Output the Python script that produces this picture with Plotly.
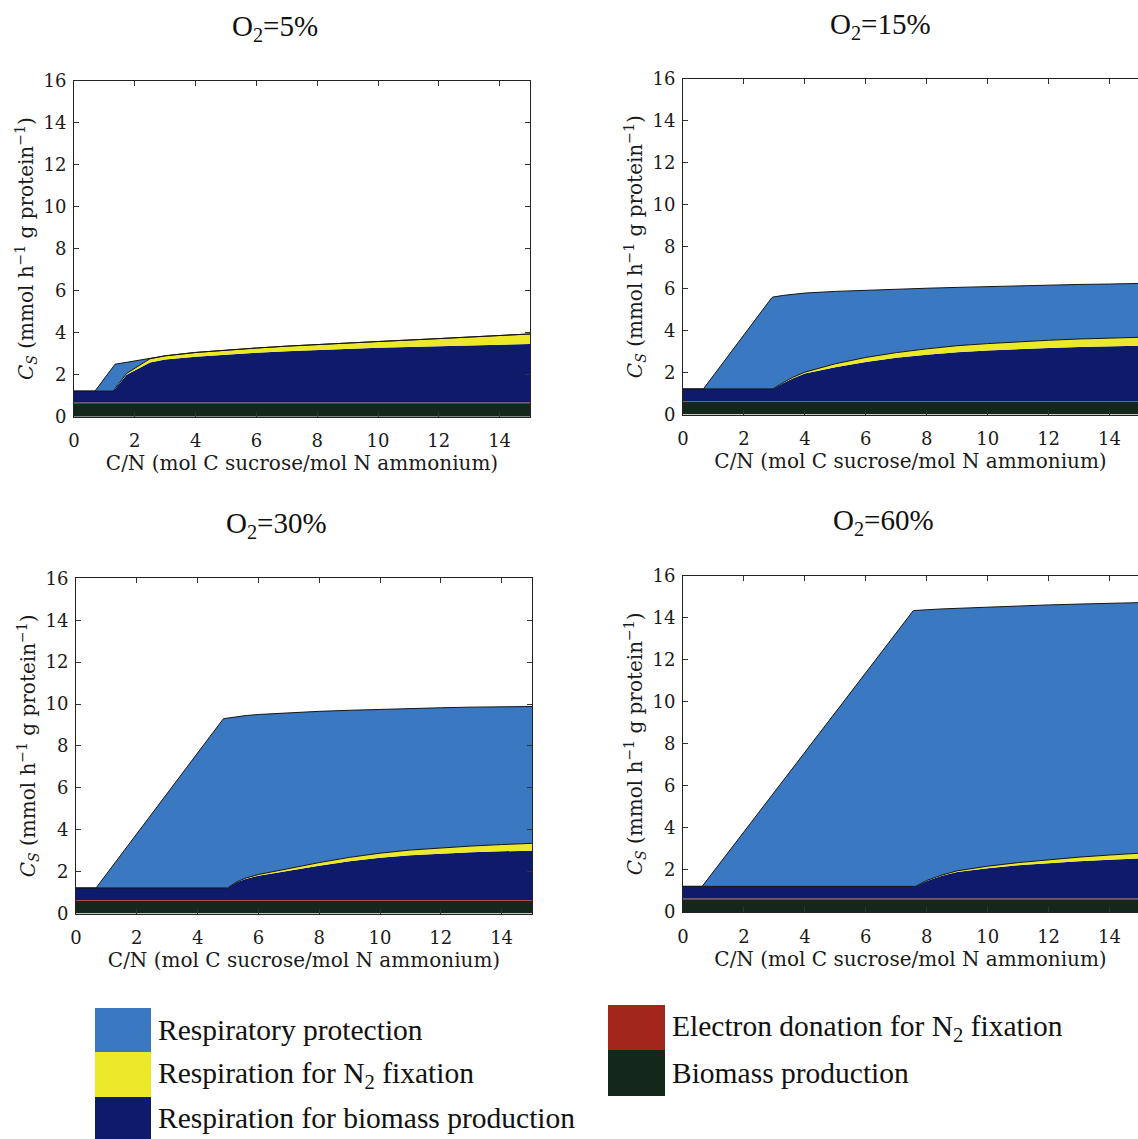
import plotly.graph_objects as go

# ---- data: upper edges of each stacked layer, C_S (mmol h^-1 g protein^-1) vs C/N ----
panel_titles = ["O<sub>2</sub>=5%", "O<sub>2</sub>=15%", "O<sub>2</sub>=30%", "O<sub>2</sub>=60%"]

cn_05 = [0, 0.69, 1.29, 1.35, 1.73, 2.5, 3, 4, 5, 6, 7, 8, 10, 12, 14, 15]
resp_bio_05 = [1.22, 1.22, 1.22, 1.32, 2.0, 2.58, 2.72, 2.86, 2.96, 3.05, 3.12, 3.18, 3.28, 3.35, 3.42, 3.46]
resp_n2_05 = [1.22, 1.22, 1.22, 1.34, 2.06, 2.76, 2.9, 3.06, 3.18, 3.27, 3.36, 3.44, 3.58, 3.72, 3.87, 3.94]
protect_05 = [1.22, 1.22, 2.38, 2.5, 2.59, 2.78, 2.9, 3.06, 3.18, 3.27, 3.36, 3.44, 3.58, 3.72, 3.87, 3.94]

cn_15 = [0, 0.67, 2.91, 2.95, 3.3, 3.6, 4, 5, 6, 7, 8, 9, 10, 11, 12, 13, 14, 15]
resp_bio_15 = [1.22, 1.22, 1.22, 1.22, 1.5, 1.72, 1.95, 2.25, 2.5, 2.7, 2.85, 2.97, 3.05, 3.12, 3.17, 3.22, 3.26, 3.28]
resp_n2_15 = [1.22, 1.22, 1.22, 1.22, 1.53, 1.77, 2.02, 2.42, 2.72, 2.95, 3.13, 3.28, 3.38, 3.47, 3.54, 3.6, 3.65, 3.68]
protect_15 = [1.22, 1.22, 5.56, 5.6, 5.68, 5.74, 5.79, 5.87, 5.93, 5.98, 6.02, 6.06, 6.1, 6.14, 6.17, 6.2, 6.22, 6.25]

cn_30 = [0, 0.66, 4.85, 4.98, 5.3, 5.6, 6, 7, 8, 9, 10, 11, 12, 13, 14, 15]
resp_bio_30 = [1.22, 1.22, 1.22, 1.22, 1.5, 1.66, 1.8, 2.05, 2.28, 2.5, 2.66, 2.78, 2.86, 2.92, 2.97, 3.0]
resp_n2_30 = [1.22, 1.22, 1.22, 1.22, 1.52, 1.7, 1.86, 2.15, 2.43, 2.68, 2.88, 3.03, 3.14, 3.22, 3.29, 3.35]
protect_30 = [1.22, 1.22, 9.3, 9.33, 9.4, 9.45, 9.5, 9.58, 9.65, 9.7, 9.75, 9.78, 9.82, 9.85, 9.87, 9.88]

cn_60 = [0, 0.63, 7.56, 7.63, 8.0, 8.5, 9, 10, 11, 12, 13, 14, 15]
resp_bio_60 = [1.22, 1.22, 1.22, 1.22, 1.48, 1.72, 1.9, 2.08, 2.22, 2.33, 2.42, 2.49, 2.55]
resp_n2_60 = [1.22, 1.22, 1.22, 1.22, 1.5, 1.76, 1.96, 2.18, 2.35, 2.49, 2.61, 2.71, 2.8]
protect_60 = [1.22, 1.22, 14.34, 14.35, 14.38, 14.42, 14.45, 14.52, 14.57, 14.61, 14.65, 14.69, 14.72]

# biomass production and electron donation are thin bands near the bottom
biomass_top = [0.60, 0.61, 0.61, 0.61]
electron_top = [0.68, 0.64, 0.64, 0.64]

x_ticks = [0, 2, 4, 6, 8, 10, 12, 14]
y_ticks = [0, 2, 4, 6, 8, 10, 12, 14, 16]

layer_names = ["Biomass production", "Electron donation for N<sub>2</sub> fixation",
               "Respiration for biomass production", "Respiration for N<sub>2</sub> fixation",
               "Respiratory protection"]
layer_colors = ["#13281b", "#a3261c", "#0e1b6b", "#ece92a", "#3b78c2"]

panels = [
    (cn_05, resp_bio_05, resp_n2_05, protect_05),
    (cn_15, resp_bio_15, resp_n2_15, protect_15),
    (cn_30, resp_bio_30, resp_n2_30, protect_30),
    (cn_60, resp_bio_60, resp_n2_60, protect_60),
]

W, H = 1138, 1139


def px_x(v):
    return v / W


def px_y(v):
    return 1 - v / H


# axis boxes in pixels: (left, right, top, bottom), and the C/N value at the right edge
boxes = [
    (74, 530, 80.7, 416.7, 15.0),
    (683, 1138, 78.9, 414.5, 15 * (1138 - 683) / (1140 - 683)),
    (76, 532, 578.3, 913.5, 15.0),
    (683, 1138, 575.7, 912.0, 15 * (1138 - 683) / (1140 - 683)),
]

fig = go.Figure()
serif = "Liberation Serif"
axis_serif = "DejaVu Serif"
outline = "#151515"

for i, (cn, rb, rn, pr) in enumerate(panels):
    xa = "x" if i == 0 else f"x{i + 1}"
    ya = "y" if i == 0 else f"y{i + 1}"
    edges = [
        [biomass_top[i]] * len(cn),
        [electron_top[i]] * len(cn),
        rb,
        rn,
        pr,
    ]
    fig.add_trace(go.Scatter(x=cn, y=[0] * len(cn), mode="lines", line=dict(width=0),
                             xaxis=xa, yaxis=ya, showlegend=False, hoverinfo="skip"))
    for k, edge in enumerate(edges):
        lw = 1.0 if k >= 3 else 0
        fig.add_trace(go.Scatter(
            x=cn, y=edge, mode="lines", fill="tonexty",
            fillcolor=layer_colors[k],
            line=dict(width=lw, color=outline if lw else layer_colors[k]),
            xaxis=xa, yaxis=ya, showlegend=False, name=layer_names[k]))

layout = dict(width=W, height=H, margin=dict(l=0, r=0, t=0, b=0, autoexpand=False),
              paper_bgcolor="white", plot_bgcolor="white", showlegend=False)

tick_font = dict(family=axis_serif, size=18, color="#1a1a1a")
title_font = dict(family=axis_serif, size=20, color="#1a1a1a")
for i, (l, r, t, b, xmax) in enumerate(boxes):
    right_col = i in (1, 3)
    xkey = "xaxis" if i == 0 else f"xaxis{i + 1}"
    ykey = "yaxis" if i == 0 else f"yaxis{i + 1}"
    yref = "y" if i == 0 else f"y{i + 1}"
    xref = "x" if i == 0 else f"x{i + 1}"
    layout[xkey] = dict(
        domain=[px_x(l), px_x(r)], range=[0, xmax], anchor=yref, automargin=False,
        tickvals=x_ticks, ticks="inside", ticklen=5, tickcolor="#333",
        showline=True, linecolor="#222", linewidth=1, mirror="ticks",
        showgrid=False, zeroline=False, tickfont=tick_font, ticklabelstandoff=8,
        title=dict(text="C/N (mol C sucrose/mol N ammonium)", font=title_font, standoff=3),
    )
    layout[ykey] = dict(
        domain=[px_y(b), px_y(t)], range=[0, 16], anchor=xref, automargin=False,
        tickvals=y_ticks, ticks="inside", ticklen=5, tickcolor="#333",
        showline=True, linecolor="#222", linewidth=1,
        mirror=False if right_col else "ticks",
        showgrid=False, zeroline=False, tickfont=tick_font, ticklabelstandoff=3,
        title=dict(text="<i>C<sub>S</sub></i> (mmol h<sup>\u22121</sup> g protein<sup>\u22121</sup>)",
                   font=title_font, standoff=4),
    )

fig.update_layout(**layout)

# panel titles
title_pos = [(275, 28), (880, 26), (276, 525), (883, 522)]
for txt, (cx, cy) in zip(panel_titles, title_pos):
    fig.add_annotation(text=txt, x=px_x(cx), y=px_y(cy), xref="paper", yref="paper",
                       showarrow=False, xanchor="center", yanchor="middle",
                       font=dict(family=serif, size=29, color="#111"))

# legend swatches and labels
legend_left = [
    (4, "Respiratory protection", 1008, 1052),
    (3, "Respiration for N<sub>2</sub> fixation", 1052, 1097),
    (2, "Respiration for biomass production", 1097, 1139),
]
legend_right = [
    (1, "Electron donation for N<sub>2</sub> fixation", 1005, 1050),
    (0, "Biomass production", 1050, 1096),
]
for items, x0, x1, tx in ((legend_left, 95, 151, 156), (legend_right, 608, 665, 670)):
    for k, label, y0, y1 in items:
        fig.add_shape(type="rect", xref="paper", yref="paper",
                      x0=px_x(x0), x1=px_x(x1), y0=px_y(y1), y1=px_y(y0),
                      fillcolor=layer_colors[k], line=dict(width=0))
        fig.add_annotation(text=label, x=px_x(tx), y=px_y((y0 + y1) / 2),
                           xref="paper", yref="paper", showarrow=False,
                           xanchor="left", yanchor="middle",
                           font=dict(family=serif, size=29.5, color="#111"))

fig.write_html("out.html")
